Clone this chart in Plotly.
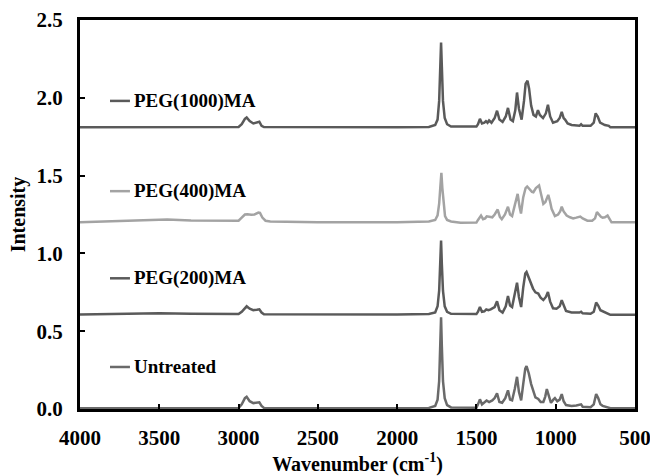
import plotly.graph_objects as go

# ---------------- data ----------------
series_names = ["PEG(1000)MA", "PEG(400)MA", "PEG(200)MA", "Untreated"]

peg1000_wn = [4000, 3000, 2980, 2960, 2949, 2930, 2907, 2885, 2869, 2855, 2840, 2000,
              1800, 1760, 1745, 1735, 1728, 1723, 1718, 1711, 1700, 1685, 1660,
              1500, 1490, 1478, 1465, 1450, 1440, 1430, 1420, 1405, 1385, 1370, 1355,
              1335, 1315, 1301, 1285, 1270, 1255, 1244, 1232, 1215, 1200, 1190, 1178,
              1168, 1155, 1140, 1125, 1112, 1100, 1080, 1062, 1049, 1035, 1017, 990,
              975, 962, 950, 941, 925, 900, 870, 850, 840, 830, 780, 760, 748, 735,
              720, 704, 690, 665, 655, 500]
peg1000_int = [1.81, 1.812, 1.83, 1.865, 1.874, 1.85, 1.835, 1.84, 1.846, 1.82, 1.812, 1.81,
               1.812, 1.825, 1.86, 1.98, 2.20, 2.355, 2.20, 1.98, 1.87, 1.83, 1.815,
               1.815, 1.83, 1.865, 1.835, 1.84, 1.85, 1.84, 1.855, 1.84, 1.87, 1.917, 1.86,
               1.845, 1.88, 1.935, 1.86, 1.85, 1.92, 2.034, 1.93, 1.86, 1.98, 2.09, 2.11,
               2.06, 1.95, 1.89, 1.88, 1.92, 1.89, 1.87, 1.90, 1.955, 1.88, 1.84, 1.85,
               1.87, 1.91, 1.87, 1.86, 1.835, 1.825, 1.822, 1.82, 1.83, 1.82, 1.82, 1.84, 1.90, 1.88,
               1.84, 1.83, 1.825, 1.82, 1.81, 1.81]

peg400_wn = [4000, 3900, 3800, 3700, 3600, 3450, 3300, 3150, 3050, 3000, 2985, 2960,
             2945, 2920, 2900, 2875, 2865, 2850, 2830, 2800, 2500, 2000,
             1800, 1760, 1745, 1735, 1728, 1721, 1715, 1708, 1698, 1685, 1660, 1600,
             1500, 1490, 1471, 1458, 1445, 1435, 1420, 1400, 1385, 1366, 1352, 1340,
             1320, 1301, 1288, 1275, 1258, 1240, 1228, 1219, 1205, 1190, 1180, 1165,
             1150, 1141, 1125, 1105, 1092, 1078, 1065, 1047, 1035, 1026, 1005, 985,
             972, 962, 950, 931, 910, 890, 870, 845, 830, 800, 770, 752, 740, 728,
             715, 704, 690, 673, 662, 648, 500]
peg400_int = [1.20, 1.203, 1.208, 1.21, 1.215, 1.218, 1.212, 1.21, 1.207, 1.21, 1.225, 1.25,
              1.252, 1.248, 1.25, 1.262, 1.26, 1.23, 1.21, 1.205, 1.20, 1.20,
              1.205, 1.215, 1.245, 1.32, 1.42, 1.517, 1.42, 1.32, 1.24, 1.215, 1.205, 1.197,
              1.198, 1.215, 1.243, 1.22, 1.225, 1.238, 1.235, 1.232, 1.25, 1.282, 1.235, 1.22,
              1.25, 1.30, 1.25, 1.24, 1.31, 1.383, 1.30, 1.256, 1.36, 1.42, 1.43, 1.41,
              1.395, 1.393, 1.42, 1.436, 1.38, 1.318, 1.33, 1.376, 1.33, 1.287, 1.24, 1.25,
              1.27, 1.30, 1.27, 1.243, 1.232, 1.225, 1.23, 1.237, 1.225, 1.21, 1.21, 1.225, 1.265, 1.25,
              1.235, 1.23, 1.232, 1.243, 1.225, 1.20, 1.20]

peg200_wn = [4000, 3700, 3500, 3300, 3000, 2980, 2960, 2949, 2930, 2907, 2885, 2869, 2855,
             2840, 2000, 1800, 1760, 1745, 1735, 1728, 1723, 1718, 1711, 1700, 1685, 1660,
             1500, 1490, 1478, 1465, 1450, 1438, 1425, 1410, 1385, 1370, 1355, 1335,
             1315, 1301, 1288, 1275, 1258, 1244, 1232, 1218, 1205, 1192, 1184, 1170,
             1155, 1143, 1128, 1110, 1095, 1078, 1062, 1049, 1035, 1017, 995, 975, 962,
             950, 935, 900, 870, 850, 840, 830, 780, 760, 745, 732, 718, 704, 690, 665,
             655, 500]
peg200_int = [0.607, 0.61, 0.615, 0.612, 0.61, 0.625, 0.652, 0.66, 0.645, 0.635, 0.638, 0.641, 0.62,
              0.609, 0.607, 0.61, 0.62, 0.66, 0.76, 0.93, 1.083, 0.93, 0.76, 0.66, 0.625, 0.612,
              0.61, 0.625, 0.656, 0.625, 0.628, 0.64, 0.635, 0.64, 0.655, 0.692, 0.635, 0.62,
              0.66, 0.726, 0.665, 0.655, 0.73, 0.812, 0.72, 0.655, 0.78, 0.87, 0.88, 0.845,
              0.80, 0.774, 0.75, 0.742, 0.715, 0.70, 0.72, 0.752, 0.69, 0.647, 0.645, 0.66, 0.699,
              0.665, 0.63, 0.62, 0.618, 0.62, 0.625, 0.615, 0.612, 0.625, 0.684, 0.665, 0.635, 0.627, 0.622, 0.61,
              0.605, 0.605]

untreated_wn = [4000, 3000, 2980, 2960, 2949, 2930, 2907, 2885, 2869, 2855, 2840, 2000,
                1800, 1760, 1745, 1735, 1728, 1723, 1718, 1711, 1700, 1685, 1660,
                1500, 1490, 1478, 1465, 1450, 1436, 1420, 1400, 1385, 1370, 1355, 1338,
                1318, 1301, 1288, 1275, 1258, 1244, 1232, 1218, 1205, 1192, 1184, 1170,
                1155, 1143, 1128, 1110, 1095, 1078, 1066, 1056, 1042, 1030, 1015, 1005,
                990, 975, 962, 950, 935, 900, 870, 850, 840, 830, 780, 760, 745, 732,
                718, 704, 690, 665, 655, 500]
untreated_int = [0.005, 0.006, 0.03, 0.07, 0.079, 0.05, 0.038, 0.04, 0.043, 0.02, 0.007, 0.005,
                 0.007, 0.02, 0.06, 0.18, 0.40, 0.59, 0.40, 0.18, 0.07, 0.025, 0.01,
                 0.008, 0.03, 0.062, 0.03, 0.04, 0.055, 0.045, 0.055, 0.07, 0.10, 0.045, 0.04,
                 0.07, 0.12, 0.06, 0.055, 0.13, 0.207, 0.11, 0.055, 0.16, 0.26, 0.276, 0.23,
                 0.16, 0.12, 0.075, 0.065, 0.045, 0.045, 0.08, 0.128, 0.07, 0.04, 0.06, 0.07,
                 0.05, 0.06, 0.096, 0.05, 0.025, 0.02, 0.022, 0.025, 0.03, 0.015, 0.012, 0.03, 0.096, 0.07,
                 0.03, 0.02, 0.015, 0.01, 0.005, 0.005]

x_ticks = [4000, 3500, 3000, 2500, 2000, 1500, 1000, 500]
y_ticks = [0.0, 0.5, 1.0, 1.5, 2.0, 2.5]

# ---------------- styling ----------------
colors = ["#5a5a5a", "#a3a3a3", "#5a5a5a", "#6a6a6a"]
label_y = [1.98, 1.40, 0.84, 0.27]   # vertical position of each inline legend entry
FONT = "Liberation Serif"

all_wn = [peg1000_wn, peg400_wn, peg200_wn, untreated_wn]
all_int = [peg1000_int, peg400_int, peg200_int, untreated_int]

fig = go.Figure()
for name, wn, it, c in zip(series_names, all_wn, all_int, colors):
    fig.add_trace(go.Scatter(x=wn, y=it, mode="lines", name=name,
                             line=dict(color=c, width=2.5), showlegend=False))

# inline legend: short swatch + bold label
for name, yv, c in zip(series_names, label_y, colors):
    fig.add_shape(type="line", xref="paper", yref="y", x0=0.054, x1=0.090,
                  y0=yv, y1=yv, line=dict(color=c, width=2.5))
    fig.add_annotation(xref="paper", yref="y", x=0.093, y=yv, text=f"<b>{name}</b>",
                       showarrow=False, xanchor="left", yanchor="middle",
                       font=dict(family=FONT, size=19, color="black"))

axis_common = dict(showline=True, linecolor="black", linewidth=3, mirror=True,
                   ticks="inside", ticklen=5, tickwidth=2, tickcolor="black",
                   showgrid=False, zeroline=False, automargin=False,
                   ticklabeloverflow="allow",
                   tickfont=dict(family=FONT, size=21, color="black"))

fig.update_xaxes(range=[4000, 500], tickvals=x_ticks,
                 ticktext=[f"<b>{v}</b>" for v in x_ticks],
                 title=dict(text="<b>Wavenumber (cm<sup>-1</sup>)</b>",
                            font=dict(family=FONT, size=20, color="black"), standoff=4),
                 ticklabelstandoff=8, **axis_common)
fig.update_yaxes(range=[0, 2.5], tickvals=y_ticks,
                 ticktext=[f"<b>{v:.1f}</b>" for v in y_ticks],
                 title=dict(text="<b>Intensity</b>",
                            font=dict(family=FONT, size=20, color="black"), standoff=6),
                 ticklabelstandoff=10, **axis_common)

fig.update_layout(width=650, height=476, margin=dict(l=80, r=15, t=20, b=67),
                  paper_bgcolor="white", plot_bgcolor="white",
                  font=dict(family=FONT, size=19, color="black"))

fig.write_html("out.html")
